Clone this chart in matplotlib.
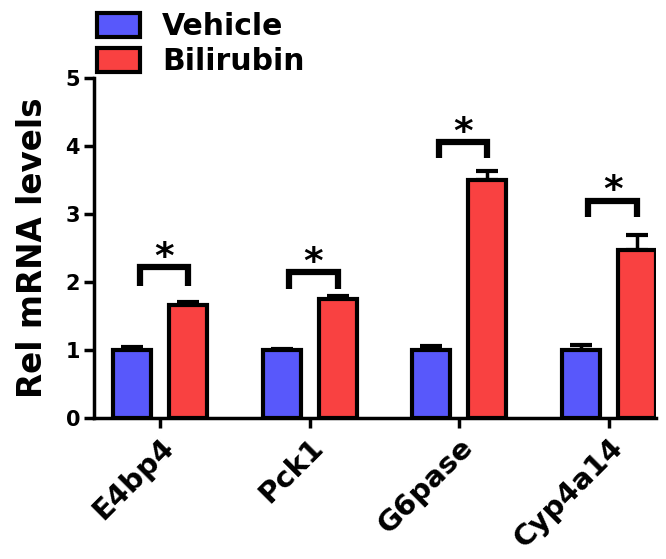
import numpy as np
import matplotlib.pyplot as plt
import matplotlib.transforms as mtransforms

plt.rcParams['font.family'] = ['DejaVu Sans']
plt.rcParams['font.weight'] = 'bold'

genes = ['E4bp4', 'Pck1', 'G6pase', 'Cyp4a14']
vehicle = [1.0, 1.0, 1.0, 1.0]
vehicle_err = [0.04, 0.01, 0.06, 0.08]
bilirubin = [1.67, 1.75, 3.51, 2.47]
bilirubin_err = [0.04, 0.05, 0.12, 0.23]
bracket_top = [2.22, 2.15, 4.06, 3.20]
bracket_leg = [1.95, 1.90, 3.82, 2.96]

x = np.arange(len(genes))
w = 0.255
off = 0.188

fig = plt.figure(figsize=(6.66, 5.59), dpi=100)
ax = fig.add_axes([0.141, 0.252, 0.844, 0.608])

ax.bar(x - off, vehicle, w, color='#5858FB', edgecolor='black', linewidth=3,
       label='Vehicle', zorder=3)
ax.bar(x + off, bilirubin, w, color='#F94141', edgecolor='black', linewidth=3,
       label='Bilirubin', zorder=3)

# error bars, upper only
ax.errorbar(x - off, vehicle, yerr=[np.zeros(4), vehicle_err], fmt='none',
            ecolor='black', elinewidth=2.5, capsize=8, capthick=3, zorder=2)
ax.errorbar(x + off, bilirubin, yerr=[np.zeros(4), bilirubin_err], fmt='none',
            ecolor='black', elinewidth=2.5, capsize=8, capthick=3, zorder=2)

# significance brackets
for i in range(len(genes)):
    x0 = x[i] - off + 0.05
    x1 = x[i] + off
    ax.plot([x0, x0, x1, x1], [bracket_leg[i], bracket_top[i], bracket_top[i], bracket_leg[i]],
            color='black', linewidth=4.5, solid_joinstyle='miter', solid_capstyle='butt')
    ax.text((x0 + x1) / 2, bracket_top[i] - 0.13, '*', ha='center', va='bottom',
            fontsize=27, fontweight='bold')

ax.set_xlim(-0.443, x[-1] + off + w / 2)
ax.set_ylim(0, 5)
ax.set_yticks([0, 1, 2, 3, 4, 5])
ax.set_xticks(x)
ax.set_xticklabels(genes, rotation=45, ha='right', va='top', rotation_mode='anchor',
                   fontsize=21, fontweight='bold')
shift = mtransforms.ScaledTranslation(0.17, 0.0, fig.dpi_scale_trans)
for lab in ax.get_xticklabels():
    lab.set_transform(lab.get_transform() + shift)
for lab in ax.get_yticklabels():
    lab.set_fontsize(15)
    lab.set_fontweight('bold')
ax.tick_params(axis='both', width=2.5, length=7, direction='out')
ax.tick_params(axis='x', pad=4)
ax.tick_params(axis='y', pad=3)

ax.spines['top'].set_visible(False)
ax.spines['right'].set_visible(False)
ax.spines['left'].set_linewidth(2.5)
ax.spines['bottom'].set_linewidth(2.5)

ax.set_ylabel('Rel mRNA levels', fontsize=23.5, fontweight='bold', labelpad=12)

leg = fig.legend(loc='upper left', bbox_to_anchor=(97 / 666, 1 - 12 / 559), frameon=False,
                 prop={'size': 21.5, 'weight': 'bold'}, handlelength=1.43, handleheight=0.87,
                 handletextpad=0.75, labelspacing=0.2, borderpad=0, borderaxespad=0)
for h in leg.legend_handles:
    h.set_linewidth(3)

plt.savefig('out.png', dpi=100)
